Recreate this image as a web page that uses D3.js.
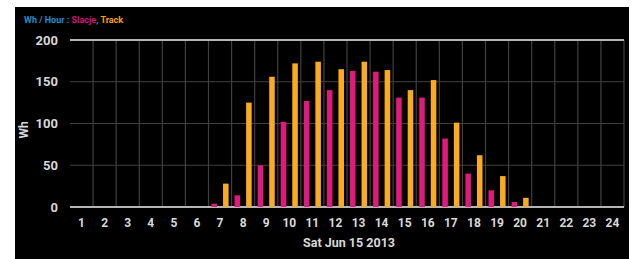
<!DOCTYPE html>
<html>
<head>
<meta charset="utf-8">
<script src="https://cdn.jsdelivr.net/npm/d3@7"></script>
<style>
  body { margin: 0; background: #fff; }
  text { font-family: Roboto, "DejaVu Sans", sans-serif; font-weight: bold; }
</style>
</head>
<body>
<div id="chart"></div>
<script>
// data
var hours = d3.range(1, 25);
var slacje = [0, 0, 0, 0, 0, 0, 4, 14, 50, 102, 127, 140, 163, 162, 131, 131, 82, 40, 20, 6, 0, 0, 0, 0];
var track = [0, 0, 0, 0, 0, 0, 28, 125, 156, 172, 174, 165, 174, 164, 140, 152, 101, 62, 37, 11, 0, 0, 0, 0];
var yTicks = [0, 50, 100, 150, 200];

var svgWidth = 636;
var svgHeight = 259;

var margin = { top: 40, left: 70, right: 12, bottom: 52 };
var width = 624 - margin.left;
var height = 207 - margin.top;

var svg = d3.select("#chart").append("svg")
  .attr("width", svgWidth)
  .attr("height", svgHeight);

// black panel
svg.append("rect")
  .attr("x", 15).attr("y", 7)
  .attr("width", 614).attr("height", 252)
  .attr("fill", "#000");

var chartGroup = svg.append("g")
  .attr("transform", `translate(${margin.left}, ${margin.top})`);

var xScale = d3.scaleBand()
  .domain(hours)
  .range([0, width]);

var yScale = d3.scaleLinear()
  .domain([0, 200])
  .range([height, 0]);

// vertical grid at band edges
chartGroup.append("g").selectAll("line")
  .data(hours.slice(1).concat([25]))
  .enter().append("line")
  .attr("x1", d => xScale(d) !== undefined ? xScale(d) : width)
  .attr("x2", d => xScale(d) !== undefined ? xScale(d) : width)
  .attr("y1", 0).attr("y2", height)
  .attr("stroke", "#404040")
  .attr("stroke-width", 1.2);

// horizontal grid
chartGroup.append("g").selectAll("line")
  .data(yTicks.slice(1, -1))
  .enter().append("line")
  .attr("x1", 0).attr("x2", width)
  .attr("y1", d => yScale(d)).attr("y2", d => yScale(d))
  .attr("stroke", "#404040")
  .attr("stroke-width", 1.2);

// top and bottom lines
chartGroup.append("g").selectAll("line")
  .data([0, 200])
  .enter().append("line")
  .attr("x1", 0).attr("x2", width)
  .attr("y1", d => yScale(d)).attr("y2", d => yScale(d))
  .attr("stroke", "#b5b5b5")
  .attr("stroke-width", 2);

var bw = xScale.bandwidth();
var barW = bw * 0.24;

// Slacje bars
chartGroup.append("g").selectAll("rect")
  .data(slacje)
  .enter().append("rect")
  .attr("x", (d, i) => xScale(hours[i]) + bw * 0.13)
  .attr("y", d => yScale(d))
  .attr("width", barW)
  .attr("height", d => height - yScale(d))
  .attr("fill", "#e0197d");

// Track bars
chartGroup.append("g").selectAll("rect")
  .data(track)
  .enter().append("rect")
  .attr("x", (d, i) => xScale(hours[i]) + bw * 0.63)
  .attr("y", d => yScale(d))
  .attr("width", barW)
  .attr("height", d => height - yScale(d))
  .attr("fill", "#fbab1e");

// y tick labels
chartGroup.append("g").selectAll("text")
  .data(yTicks)
  .enter().append("text")
  .attr("x", -12)
  .attr("y", d => yScale(d))
  .attr("dy", "0.35em")
  .attr("text-anchor", "end")
  .attr("font-size", "13px")
  .attr("fill", "#d8d8d8")
  .text(d => d);

// x tick labels
chartGroup.append("g").selectAll("text")
  .data(hours)
  .enter().append("text")
  .attr("x", d => xScale(d) + bw / 2)
  .attr("y", height + 16)
  .attr("dy", "0.35em")
  .attr("text-anchor", "middle")
  .attr("font-size", "12px")
  .attr("fill", "#d8d8d8")
  .text(d => d);

// axis labels
chartGroup.append("text")
  .attr("transform", "rotate(-90)")
  .attr("x", -90)
  .attr("y", -46)
  .attr("dy", "0.35em")
  .attr("text-anchor", "middle")
  .attr("font-size", "12px")
  .attr("fill", "#d8d8d8")
  .text("Wh");

chartGroup.append("text")
  .attr("x", 349 - margin.left)
  .attr("y", 243 - margin.top)
  .attr("dy", "0.35em")
  .attr("text-anchor", "middle")
  .attr("font-size", "12.5px")
  .attr("fill", "#d8d8d8")
  .text("Sat Jun 15 2013");

// title
var title = svg.append("text")
  .attr("x", 24)
  .attr("y", 23)
  .attr("font-size", "9px");
title.append("tspan").attr("fill", "#1f8fd0").text("Wh / Hour : ");
title.append("tspan").attr("fill", "#d1177a").text("Slacje");
title.append("tspan").attr("fill", "#1f8fd0").text(", ");
title.append("tspan").attr("fill", "#f0a020").text("Track");
</script>
</body>
</html>
